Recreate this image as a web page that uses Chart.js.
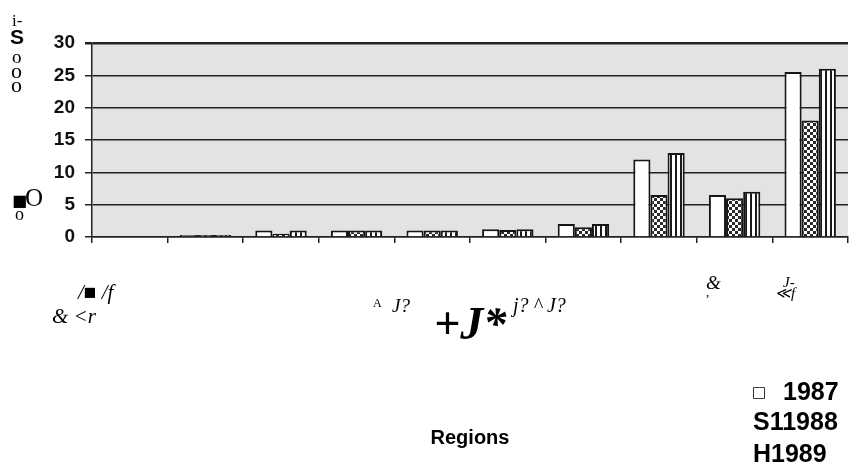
<!DOCTYPE html>
<html>
<head>
<meta charset="utf-8">
<script src="https://cdn.jsdelivr.net/npm/chart.js@4/dist/chart.umd.min.js"></script>
<style>
  html, body { margin: 0; padding: 0; background: #ffffff; }
  #wrap { width: 850px; height: 468px; position: relative; }
</style>
</head>
<body>
<div id="wrap"><canvas id="c" width="850" height="468"></canvas></div>
<script>
// Regions along the x axis (ten groups)
const regions = ['R1', 'R2', 'R3', 'R4', 'R5', 'R6', 'R7', 'R8', 'R9', 'R10'];

// Series, one per year
const years = ['1987', '1988', '1989'];
const values1987 = [0, 0.3, 1.0, 1.0, 1.0, 1.2, 2.0, 12.0, 6.5, 25.5];
const values1988 = [0, 0.3, 0.5, 1.0, 1.0, 1.1, 1.5, 6.5, 6.0, 18.0];
const values1989 = [0, 0.3, 1.0, 1.0, 1.0, 1.2, 2.0, 13.0, 7.0, 26.0];

// Value axis ticks
const yTicks = [0, 5, 10, 15, 20, 25, 30];

// Legend lines and axis title
const legendLines = ['□', '1987', 'S11988', 'H1989'];
const axisTitle = 'Regions';

// Scattered label text around the axes
const sideText = ['i-', 'S', 'o', 'o', 'o', '■', 'O', 'o'];
const bottomText = ['/■ /f', '& <r', 'A', 'J?', '+J*', 'j? ^ J?', '&', ',', 'J-', '≪f'];

// --- fill patterns -------------------------------------------------------
function checkerPattern(ctx) {
  const p = document.createElement('canvas');
  p.width = 6; p.height = 6;
  const g = p.getContext('2d');
  g.fillStyle = '#ffffff'; g.fillRect(0, 0, 6, 6);
  g.fillStyle = '#2b2b2b';
  g.fillRect(0, 0, 3, 3);
  g.fillRect(3, 3, 3, 3);
  return ctx.createPattern(p, 'repeat');
}
function stripePattern(ctx) {
  const p = document.createElement('canvas');
  p.width = 5; p.height = 4;
  const g = p.getContext('2d');
  g.fillStyle = '#ffffff'; g.fillRect(0, 0, 5, 4);
  g.fillStyle = '#1a1a1a'; g.fillRect(0, 0, 2, 4);
  return ctx.createPattern(p, 'repeat');
}

const canvas = document.getElementById('c');
const ctx2d = canvas.getContext('2d');

// Grey plot background
const plotBackground = {
  id: 'plotBackground',
  beforeDraw(chart) {
    const a = chart.chartArea, c = chart.ctx;
    c.save();
    c.fillStyle = '#e3e3e3';
    c.fillRect(a.left, a.top, a.right - a.left, a.bottom - a.top);
    c.restore();
  }
};

// Free text: side fragments, bottom fragments, axis title and legend
const SERIF = '"Liberation Serif", "DejaVu Serif", serif';
const SANS = '"Liberation Sans", Arial, sans-serif';
const sideLayout = [
  { font: '17px ' + SERIF, x: 12, y: 26 },
  { font: 'bold 21px ' + SANS, x: 10, y: 44 },
  { font: '19px ' + SERIF, x: 12, y: 63 },
  { font: '22px ' + SERIF, x: 11, y: 78 },
  { font: '22px ' + SERIF, x: 11, y: 92 },
  { font: '16px "DejaVu Sans", sans-serif', x: 12, y: 206 },
  { font: '25px ' + SERIF, x: 25, y: 206 },
  { font: '18px ' + SERIF, x: 15, y: 220 }
];
const bottomLayout = [
  { font: 'italic 21px ' + SERIF, x: 78, y: 299 },
  { font: 'italic 21px ' + SERIF, x: 52, y: 323 },
  { font: '12px ' + SERIF, x: 373, y: 307 },
  { font: 'italic 19px ' + SERIF, x: 392, y: 312 },
  { font: 'bold italic 46px ' + SERIF, x: 434, y: 339 },
  { font: 'italic 20px ' + SERIF, x: 513, y: 312 },
  { font: 'italic 19px ' + SERIF, x: 706, y: 289 },
  { font: '13px ' + SERIF, x: 706, y: 296 },
  { font: 'italic 15px ' + SERIF, x: 783, y: 287 },
  { font: 'italic 15px ' + SERIF, x: 775, y: 298 }
];
const legendLayout = [
  { font: '15px "DejaVu Sans", sans-serif', x: 752, y: 397 },
  { font: 'bold 25px ' + SANS, x: 783, y: 400 },
  { font: 'bold 25px ' + SANS, x: 753, y: 430 },
  { font: 'bold 25px ' + SANS, x: 753, y: 462 }
];

const freeText = {
  id: 'freeText',
  afterDraw(chart) {
    const c = chart.ctx;
    c.save();
    c.fillStyle = '#000000';
    c.textAlign = 'left';
    c.textBaseline = 'alphabetic';
    const put = (texts, layout) => texts.forEach((t, i) => {
      c.font = layout[i].font;
      c.fillText(t, layout[i].x, layout[i].y);
    });
    put(sideText, sideLayout);
    put(bottomText, bottomLayout);
    put(legendLines, legendLayout);
    c.font = 'bold 20px ' + SANS;
    c.textAlign = 'center';
    c.fillText(axisTitle, 470, 444);
    c.restore();
  }
};

const edge = '#222222';

new Chart(canvas, {
  type: 'bar',
  data: {
    labels: regions,
    datasets: [
      { label: years[0], data: values1987, backgroundColor: '#ffffff' },
      { label: years[1], data: values1988, backgroundColor: checkerPattern(ctx2d) },
      { label: years[2], data: values1989, backgroundColor: stripePattern(ctx2d) }
    ].map(d => Object.assign(d, {
      borderColor: '#151515',
      borderWidth: 2,
      categoryPercentage: 0.68,
      barPercentage: 1.0
    }))
  },
  options: {
    responsive: false,
    animation: false,
    devicePixelRatio: 1,
    layout: { padding: { left: 0, right: 2, top: 43, bottom: 0 } },
    plugins: { legend: { display: false }, tooltip: { enabled: false } },
    scales: {
      x: {
        offset: true,
        ticks: { display: false },
        grid: {
          offset: true,
          drawOnChartArea: false,
          drawTicks: true,
          tickLength: 6,
          color: edge,
          lineWidth: 1.5
        },
        border: { display: true, color: edge, width: 1.5 },
        afterFit(scale) { scale.height = 231; }
      },
      y: {
        min: 0,
        max: 30,
        afterBuildTicks(scale) { scale.ticks = yTicks.map(v => ({ value: v })); },
        ticks: {
          color: '#111111',
          padding: 10,
          font: { family: SANS, size: 19, weight: 'bold' }
        },
        grid: {
          color: edge,
          lineWidth: (c) => (c.tick && c.tick.value === 30 ? 2.5 : 1.5),
          drawTicks: true,
          tickLength: 7
        },
        border: { display: true, color: edge, width: 1.5 },
        afterFit(scale) { scale.width = 92; }
      }
    }
  },
  plugins: [plotBackground, freeText]
});
</script>
</body>
</html>
